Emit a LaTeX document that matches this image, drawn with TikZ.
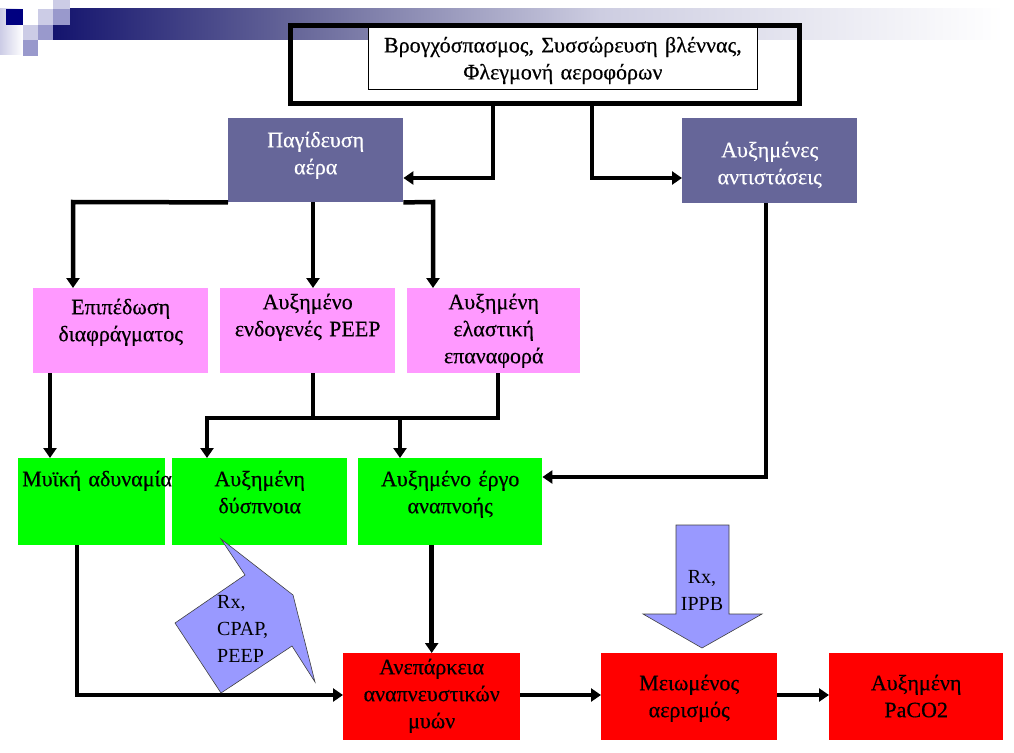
\documentclass[tikz,border=0pt]{standalone}
\usepackage{fontspec}
\setmainfont{Liberation Serif}
\newfontfamily\boxfont[FakeBold=0.5]{Liberation Serif}
\usetikzlibrary{arrows.meta}
\definecolor{navy}{RGB}{0,0,128}
\definecolor{lav}{RGB}{204,204,230}
\definecolor{lavmid}{RGB}{153,153,204}
\definecolor{bandA}{RGB}{20,20,110}
\definecolor{bandB}{RGB}{104,104,154}
\definecolor{bandC}{RGB}{205,205,225}
\definecolor{slate}{RGB}{102,102,153}
\definecolor{pinkbox}{RGB}{255,153,255}
\definecolor{greenbox}{RGB}{0,255,0}
\definecolor{redbox}{RGB}{255,0,0}
\definecolor{bluearr}{RGB}{153,153,255}
\begin{document}
\begin{tikzpicture}[x=1pt,y=-1pt,
  blk/.style={inner sep=0pt,align=center,anchor=north west,font=\boxfont\fontsize{22}{27}\selectfont},
  rxtxt/.style={blk,font=\fontsize{20}{27}\selectfont},
  wire/.style={line width=4.5pt},
  arr/.style={line width=4.5pt,-{Triangle[length=10pt,width=13pt]}},
  fat/.style={fill=bluearr,draw=black!75,line width=0.6pt}]
\useasboundingbox (0,0) rectangle (1014,752);
% header band
\shade[left color=lav,right color=white] (0,9) rectangle (23,55);
\shade[left color=bandA,right color=bandB] (53,9) rectangle (300,40);
\shade[left color=bandB,right color=bandC] (300,9) rectangle (600,40);
\shade[left color=bandC,right color=white] (600,9) rectangle (1003,40);
\fill[navy] (6,9) rectangle (23,25);
\fill[lav] (38,9) rectangle (53,25);
\fill[lav] (53,0) rectangle (70,9);
\fill[lavmid] (53,9) rectangle (70,25);
\fill[lav] (23,25) rectangle (38,40);
\fill[lavmid] (38,25) rectangle (53,40);
\fill[lavmid] (23,40) rectangle (38,56);
% boxes
\node[blk,fill=white,draw,line width=0.8pt,text width=389pt,text height=28pt,text depth=37pt] (causetxt) at (368,24) {Βρογχόσπασμος, Συσσώρευση βλέννας,\\Φλεγμονή αεροφόρων};
\node[draw,line width=5pt,minimum width=509pt,minimum height=78pt,inner sep=0pt,anchor=north west] (cause) at (288,23) {};
\node[blk,fill=slate,text=white,text width=175pt,text height=29pt,text depth=55pt] (trap) at (228,118) {Παγίδευση\\αέρα};
\node[blk,fill=slate,text=white,text width=175pt,text height=39pt,text depth=46pt] (resist) at (682,118) {Αυξημένες\\αντιστάσεις};
\node[blk,fill=pinkbox,text width=175pt,text height=26pt,text depth=59pt] (flat) at (33,288) {Επιπέδωση\\διαφράγματος};
\node[blk,fill=pinkbox,text width=175pt,text height=21pt,text depth=64pt] (peep) at (220,288) {Αυξημένο\\ενδογενές PEEP};
\node[blk,fill=pinkbox,text width=173pt,text height=21pt,text depth=64pt] (recoil) at (407,288) {Αυξημένη\\ελαστική\\επαναφορά};
\node[blk,fill=greenbox,text width=147pt,text height=28pt,text depth=59pt] (weak) at (18,458) {\mbox{\hspace{4pt}Μυϊκή αδυναμία}};
\node[blk,fill=greenbox,text width=175pt,text height=28pt,text depth=59pt] (dysp) at (172,458) {Αυξημένη\\δύσπνοια};
\node[blk,fill=greenbox,text width=184pt,text height=28pt,text depth=59pt] (work) at (358,458) {Αυξημένο έργο\\αναπνοής};
\node[blk,fill=redbox,text width=177pt,text height=21pt,text depth=66pt] (fail) at (343,653) {Ανεπάρκεια\\αναπνευστικών\\μυών};
\node[blk,fill=redbox,text width=176pt,text height=37pt,text depth=50pt] (vent) at (601,653) {Μειωμένος\\αερισμός};
\node[blk,fill=redbox,text width=174pt,text height=37pt,text depth=50pt] (paco) at (829,653) {Αυξημένη\\PaCO2};
% bends
\coordinate (j1) at (493,178);
\coordinate (j2) at (592,178);
\coordinate (j3) at (73,202);
\coordinate (j4) at (433,202);
\coordinate (k1) at (50,418);
\coordinate (m1) at (207,418);
\coordinate (m2) at (400,418);
\coordinate (m3) at (498,418);
\coordinate (m4) at (313,418);
\coordinate (j6) at (766,477);
\coordinate (j7) at (77,695);
% connectors
\draw[arr] (cause.south -| j1) |- (trap.east |- j1);
\draw[arr] (cause.south -| j2) |- (resist.west |- j2);
\draw[arr] (trap.south west) -- (j3) -- (flat.north -| j3);
\draw[arr] (trap.south -| m4) -- (peep.north -| m4);
\draw[arr] (trap.south east) -- (j4) -- (recoil.north -| j4);
\draw[arr] (flat.south -| k1) -- (weak.north -| k1);
\draw[wire] (peep.south -| m4) -- (m4);
\draw[wire] (recoil.south -| m3) -- (m3) -- ([xshift=-2.25pt]m1);
\draw[arr] (m1) -- (dysp.north -| m1);
\draw[arr] (m2) -- (work.north -| m2);
\draw[arr] (resist.south -| j6) |- (work.east |- j6);
\draw[arr] (weak.south -| j7) |- (fail.west |- j7);
\draw[arr] (work.south -| fail.north) -- (fail.north);
\draw[arr] (fail.east |- j7) -- (vent.west |- j7);
\draw[arr] (vent.east |- j7) -- (paco.west |- j7);
% treatment arrows
\draw[fat] (676,525) -- (729,525) -- (729,614) -- (762,614) -- (702,648) -- (643,614) -- (676,614) -- cycle;
\node[rxtxt,anchor=north,text width=60pt,text height=20pt,text depth=0pt] (ippb) at (702,563) {Rx,\\IPPB};
\draw[fat] (221,539) -- (245,575) -- (175,623) -- (221,693) -- (292,646) -- (315,682) -- (293,595) -- cycle;
\node[rxtxt,align=left,text width=70pt,text height=21pt,text depth=0pt] (cpap) at (217,587) {Rx,\\CPAP,\\PEEP};
\end{tikzpicture}
\end{document}
